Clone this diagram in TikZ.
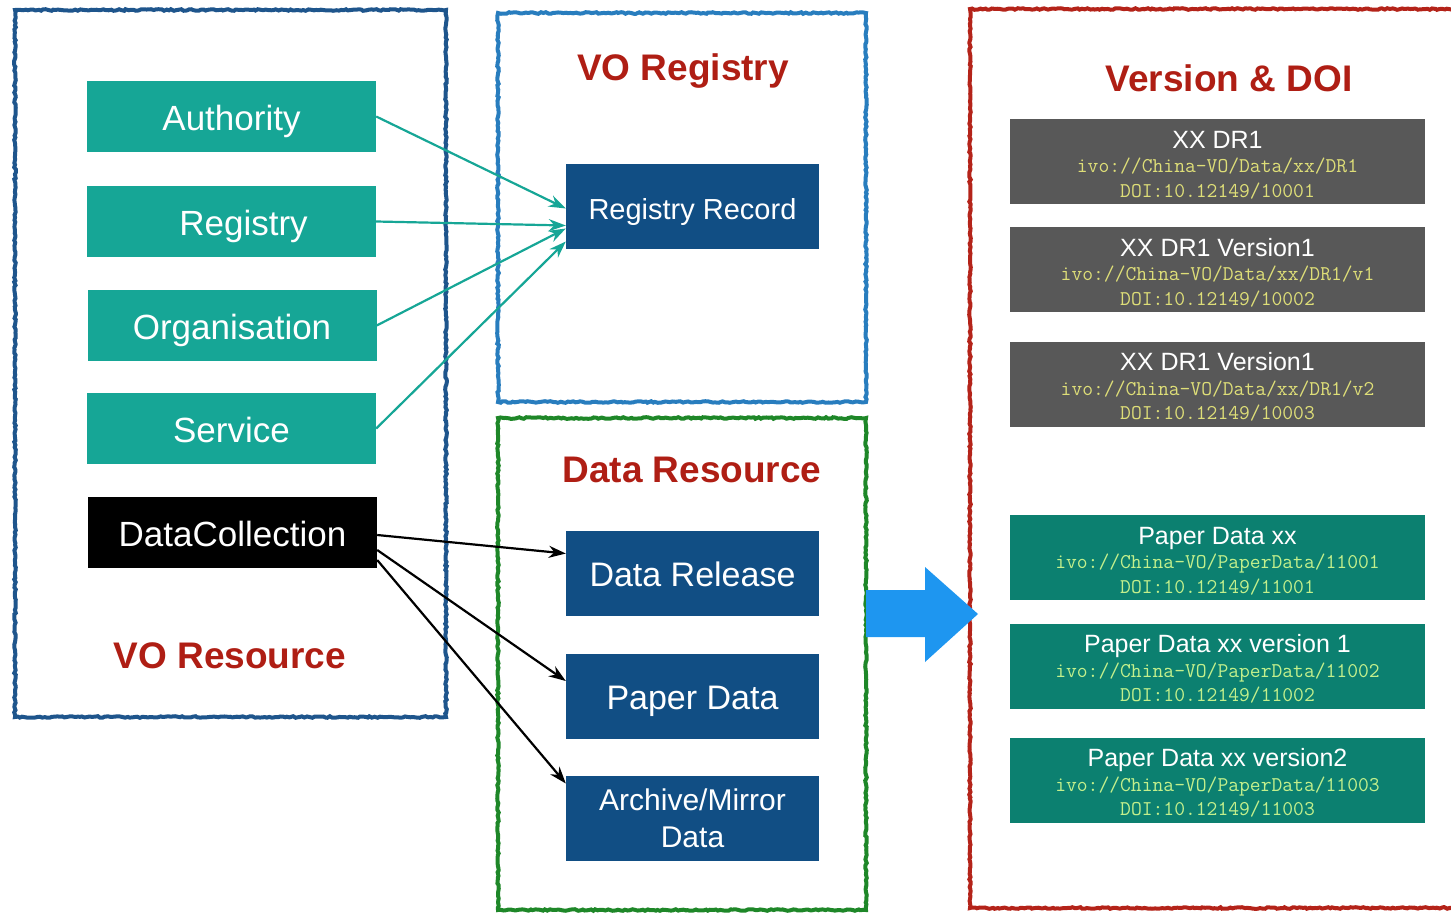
\documentclass[tikz,border=0pt]{standalone}
\usepackage{fontspec}
\setmainfont{Liberation Sans}
\usetikzlibrary{arrows.meta,decorations.pathmorphing}
\definecolor{voblue}{RGB}{30,85,140}
\definecolor{regblue}{RGB}{40,125,190}
\definecolor{resgreen}{RGB}{30,135,40}
\definecolor{doired}{RGB}{180,35,25}
\definecolor{titlered}{RGB}{175,30,20}
\definecolor{restealfill}{RGB}{22,166,150}
\definecolor{navy}{RGB}{17,78,132}
\definecolor{vergray}{RGB}{88,88,88}
\definecolor{papteal}{RGB}{12,128,112}
\definecolor{bigblue}{RGB}{30,150,240}
\definecolor{ivoyellow}{RGB}{222,222,120}
\definecolor{ivogreen}{RGB}{195,240,140}
\begin{document}
\begin{tikzpicture}[x=1pt,y=-1pt,
	frame/.style={line width=4pt, decorate, decoration={random steps, segment length=2.5pt, amplitude=0.8pt}},
	res/.style={shape=rectangle, fill=restealfill, text=white, minimum width=289pt, minimum height=71pt, text height=28pt, text depth=0pt, font=\fontsize{35}{35}\selectfont},
	blk/.style={shape=rectangle, fill=navy, text=white, minimum width=253pt, minimum height=85pt, align=center, font=\fontsize{34}{38}\selectfont},
	oneline/.style={text height=26pt, text depth=0pt},
	title/.style={text=titlered, font=\fontsize{37}{37}\selectfont\bfseries},
	ver/.style={shape=rectangle, fill=vergray, text=white, minimum width=415pt, minimum height=85pt, align=center, inner sep=0pt, font=\fontsize{21}{24.5}\selectfont},
	pap/.style={ver, fill=papteal},
	link/.style={-{Stealth[length=17pt,width=12pt]}, line width=2.2pt}]
	\clip (0,0) rectangle (1451,913);
	% frames
	\draw[frame, voblue] (15,10) rectangle (446,717);
	\draw[frame, regblue] (498,13) rectangle (866,402);
	\draw[frame, resgreen] (498,418) rectangle (866,910);
	\draw[frame, doired] (970,9) rectangle (1475,908);
	% VO resource
	\node (auth) at (231.5,116.5) [res] {Authority};
	\node (reg) at (231.5,221.5) [res] {\hspace{24pt}Registry};
	\node (org) at (232,325.5) [res] {Organisation};
	\node (serv) at (231.5,428.5) [res] {Service};
	\node (dc) at (232.5,532) [res, fill=black] {DataCollection};
	\node (votitle) at (230,656) [title] {VO Resource};
	% registry
	\node (regtitle) at (683,71) [title] {VO Registry};
	\node (rec) at (692.5,206.5) [blk, text height=25pt, text depth=0pt, font=\fontsize{29}{33}\selectfont] {Registry Record};
	% data resource
	\node (datatitle) at (692,470) [title] {Data Resource};
	\node (rel) at (692.5,573.5) [blk, oneline] {Data Release};
	\node (paper) at (692.5,696) [blk, oneline] {Paper Data};
	\node (arch) at (692.5,818.5) [blk, font=\fontsize{30}{37}\selectfont] {Archive/Mirror\\Data};
	% version & doi
	\node (doititle) at (1229,78) [title] {Version \& DOI};
	\node (v0) at (1217.5,161.5) [ver] {{\fontsize{25}{25}\selectfont\rule{0pt}{24pt}XX DR1}\\\textcolor{ivoyellow}{\ttfamily ivo://China-VO/Data/xx/DR1}\\\textcolor{ivoyellow}{\ttfamily DOI:10.12149/10001}};
	\node (v1) at (1217.5,269.5) [ver] {{\fontsize{25}{25}\selectfont\rule{0pt}{24pt}XX DR1 Version1}\\\textcolor{ivoyellow}{\ttfamily ivo://China-VO/Data/xx/DR1/v1}\\\textcolor{ivoyellow}{\ttfamily DOI:10.12149/10002}};
	\node (v2) at (1217.5,384) [ver] {{\fontsize{25}{25}\selectfont\rule{0pt}{24pt}XX DR1 Version1}\\\textcolor{ivoyellow}{\ttfamily ivo://China-VO/Data/xx/DR1/v2}\\\textcolor{ivoyellow}{\ttfamily DOI:10.12149/10003}};
	\node (p0) at (1217.5,557.5) [pap] {{\fontsize{25}{25}\selectfont\rule{0pt}{24pt}Paper Data xx}\\\textcolor{ivogreen}{\ttfamily ivo://China-VO/PaperData/11001}\\\textcolor{ivogreen}{\ttfamily DOI:10.12149/11001}};
	\node (p1) at (1217.5,666) [pap] {{\fontsize{25}{25}\selectfont\rule{0pt}{24pt}Paper Data xx version 1}\\\textcolor{ivogreen}{\ttfamily ivo://China-VO/PaperData/11002}\\\textcolor{ivogreen}{\ttfamily DOI:10.12149/11002}};
	\node (p2) at (1217.5,780) [pap] {{\fontsize{25}{25}\selectfont\rule{0pt}{24pt}Paper Data xx version2}\\\textcolor{ivogreen}{\ttfamily ivo://China-VO/PaperData/11003}\\\textcolor{ivogreen}{\ttfamily DOI:10.12149/11003}};
	% links
	\draw[link, restealfill] (auth.east) -- ([yshift=-2pt]rec.west);
	\draw[link, restealfill] (reg.east) -- ([yshift=-19pt]rec.west);
	\draw[link, restealfill] (org.east) -- ([yshift=-22pt]rec.west);
	\draw[link, restealfill] (serv.east) -- ([yshift=-35pt]rec.west);
	\draw[link] ([yshift=-3pt]dc.east) -- ([yshift=20pt]rel.west);
	\draw[link] ([yshift=-18pt]dc.east) -- ([yshift=15pt]paper.west);
	\draw[link] ([yshift=-28pt]dc.east) -- ([yshift=35pt]arch.west);
	% big arrow
	\fill[bigblue] (866,590) -- (925,590) -- (925,567) -- (978,614) -- (925,662) -- (925,637) -- (866,637) -- cycle;
\end{tikzpicture}
\end{document}
